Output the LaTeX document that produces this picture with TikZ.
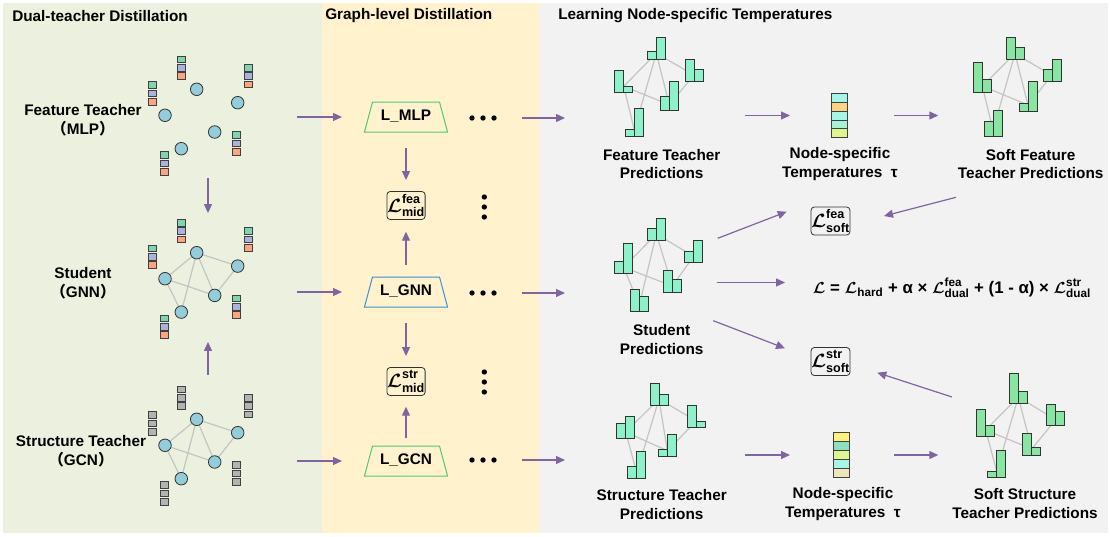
\documentclass[tikz,border=0pt]{standalone}
\usepackage{amsmath,bm}
\usepackage{fontspec}
\setmainfont{Liberation Sans}
\newfontfamily\cjk{Noto Sans CJK SC}
\usetikzlibrary{arrows.meta,shapes.geometric}

\definecolor{bggreen}{HTML}{EBF1DE}
\definecolor{bgyellow}{HTML}{FFF2CC}
\definecolor{bggray}{HTML}{F2F2F2}
\definecolor{flowc}{HTML}{8064A2}
\definecolor{edgec}{HTML}{C4C4C4}
\definecolor{gnodec}{HTML}{92CDDC}
\definecolor{cgreen}{HTML}{80D4B0}
\definecolor{cblue}{HTML}{A9B3DD}
\definecolor{corange}{HTML}{FFA37D}
\definecolor{cgray}{HTML}{B3B3B3}
\definecolor{predc}{HTML}{8DF2C9}
\definecolor{softc}{HTML}{88E6A2}
\definecolor{mlpc}{HTML}{50C878}
\definecolor{gnnc}{HTML}{3D8FD6}
\definecolor{tcyan}{HTML}{A6F5E9}
\definecolor{torange}{HTML}{FFD37F}
\definecolor{tmint}{HTML}{A8F2D8}
\definecolor{tlime}{HTML}{DDF78C}
\definecolor{tyellow}{HTML}{FFF27A}
\definecolor{tgreen}{HTML}{8AE2C2}
\definecolor{tbeige}{HTML}{EEE6B8}

\newcommand\Lcal{\boldsymbol{\mathcal{L}}}
\newcommand\lossL[2]{$\Lcal^{\text{#1}}_{\text{#2}}$}
% three cells of one node feature
\def\cellstack(#1,#2)#3#4#5{%
  \draw[stackcell,fill=#3] (#1-4,#2) rectangle ++(8,6.7);
  \draw[stackcell,fill=#4] (#1-4,#2+8.3) rectangle ++(8,6.7);
  \draw[stackcell,fill=#5] (#1-4,#2+16.6) rectangle ++(8,6.7);}
% two prediction bars standing on (x,y)
\def\bars(#1,#2)#3#4#5{%
  \draw[predbar,fill=#5] (#1-9,#2) rectangle ++(9,-#3);
  \draw[predbar,fill=#5] (#1,#2) rectangle ++(9,-#4);}
% row or column of three dots round (x,y)
\def\hdots(#1,#2){\foreach \k in {-11,0,11} \fill (#1+\k,#2) circle[radius=2pt];}
\def\vdots(#1,#2){\foreach \k in {-10,0,10} \fill (#1,#2+\k) circle[radius=2pt];}
\newcommand\inputgraph[6]{%
  \begin{scope}[shift={(#1,#2)}]
    \coordinate (a) at (0,0);
    \coordinate (b) at (41,13.4);
    \coordinate (c) at (-31.7,26);
    \coordinate (d) at (18,42.7);
    \coordinate (e) at (-15.4,59.4);
    \draw[#6] (a)--(b) (a)--(c) (a)--(d) (a)--(e) (c)--(d) (c)--(e) (b)--(d);
    \foreach \p in {a,b,c,d,e} \draw[gnode] (\p) circle[radius=4.7pt];
    \foreach \sx/\sy in {-15/-33.3,-44.4/-7.6,51.6/-25,39.3/42.4,-32/62.4}
      {\cellstack(\sx,\sy){#3}{#4}{#5}}
  \end{scope}}
\newcommand\predgraph[2]{%
  \foreach \x/\y/\p/\q [count=\i] in {#2} \coordinate (n\i) at (\x,\y-6);
  \draw[graphedge] (n1)--(n2) (n1)--(n3) (n1)--(n4) (n1)--(n5) (n3)--(n4) (n3)--(n5) (n2)--(n4);
  \foreach \x/\y/\p/\q in {#2} {\bars(\x,\y){\p}{\q}{#1}}}

\tikzset{
  flow/.style={draw=flowc, line width=0.9pt, -{Triangle[length=6.75pt,width=6pt]}},
  graphedge/.style={draw=edgec, line width=0.9pt},
  gnode/.style={draw=black!80, fill=gnodec, line width=0.6pt},
  stackcell/.style={draw=black!75, line width=0.55pt},
  predbar/.style={draw=black!80, line width=0.6pt},
  paneltitle/.style={font=\bfseries\fontsize{11.5}{14}\selectfont, anchor=west, inner sep=0pt},
  lbl/.style={font=\bfseries\fontsize{11.5}{14}\selectfont, align=center, inner sep=0pt},
  lossbox/.style={draw=black!80, rounded corners=2.5pt, line width=0.6pt, minimum width=28.5pt,
    minimum height=21pt, inner sep=0pt, font=\bfseries\fontsize{13.5}{15}\selectfont},
  layerbox/.style={trapezium, trapezium left angle=75, trapezium right angle=75, line width=0.75pt,
    text width=50.25pt, align=center, inner xsep=0pt, inner ysep=6pt, text height=8pt,
    text depth=2.5pt, font=\bfseries\fontsize{11.5}{14}\selectfont},
  tempbar/.style={minimum width=12pt, minimum height=33.3pt, inner sep=0pt}
}

\begin{document}
\begin{tikzpicture}[x=0.75pt,y=-0.75pt]
%%%%% START %%%%%
\useasboundingbox (0,0) rectangle (1110,536);

\fill[bggreen] (3,3) rectangle (322,533);
\fill[bgyellow] (322,3) rectangle (539,533);
\fill[bggray] (539,3) rectangle (1108,533);

\node[paneltitle] (t1) at (12,16) {Dual-teacher Distillation};
\node[paneltitle] (t2) at (325,16) {Graph-level Distillation};
\node[paneltitle] (t3) at (558,16) {Learning Node-specific Temperatures};

% dual teachers and student
\node[lbl] (ftlab) at (83,120.5) {Feature Teacher\\{\cjk （}MLP{\cjk ）}};
\node[lbl] (stlab) at (83,283.5) {Student\\{\cjk （}GNN{\cjk ）}};
\node[lbl] (sglab) at (81,451.5) {Structure Teacher\\{\cjk （}GCN{\cjk ）}};

\inputgraph{196.7}{89.3}{cgreen}{cblue}{corange}{draw=none}
\inputgraph{196.7}{252.7}{cgreen}{cblue}{corange}{graphedge}
\inputgraph{196.7}{419.3}{cgray}{cgray}{cgray}{graphedge}

\coordinate (ftg) at (208,115);
\coordinate (stg) at (208,278.5);
\coordinate (sg) at (208,445.5);
\draw[flow, shorten <=47.25pt, shorten >=49.1pt] (ftg) -- (stg);
\draw[flow, shorten <=52.9pt, shorten >=47.6pt] (sg) -- (stg);

% graph-level distillation
\node[layerbox, draw=mlpc] (mlp) at (406,117) {L\_MLP};
\node[layerbox, draw=gnnc] (gnn) at (406,292) {L\_GNN};
\node[layerbox, draw=mlpc] (gcn) at (406,461) {L\_GCN};
\node[lossbox] (feamid) at (406,205.5) {\lossL{fea}{mid}};
\node[lossbox] (strmid) at (406,381.5) {\lossL{str}{mid}};

\coordinate (dots1) at (483,118);
\coordinate (dots2) at (483,293);
\coordinate (dots3) at (483,460);
\hdots(483,118) \hdots(483,293) \hdots(483,460)
\vdots(484.3,207) \vdots(484.3,382)

\draw[flow, shorten <=66.75pt, shorten >=48pt] (ftg |- mlp) -- (mlp.center);
\draw[flow, shorten <=66.75pt, shorten >=48pt] (stg |- gnn) -- (gnn.center);
\draw[flow, shorten <=66.75pt, shorten >=48pt] (sg |- gcn) -- (gcn.center);
\draw[flow, shorten <=23.25pt, shorten >=19.1pt] (mlp.center) -- (feamid.center);
\draw[flow, shorten <=20.25pt, shorten >=19.65pt] (gnn.center) -- (feamid.center);
\draw[flow, shorten <=23.5pt, shorten >=19.1pt] (gnn.center) -- (strmid.center);
\draw[flow, shorten <=17pt, shorten >=18.9pt] (gcn.center) -- (strmid.center);

% predictions
\predgraph{predc}{656.3/59.3/7.6/22, 694/81/21.7/11.7, 623.7/92.3/22.3/6.3, 669.3/110.7/14.7/29.7, 634.3/136/6.7/27.7}
\predgraph{predc}{656.3/240/11.7/21.7, 693.7/262.3/10.7/21.7, 623.7/273.3/12.3/30, 672.3/292/22/12.3, 639.3/311.3/22/14.7}
\predgraph{predc}{659/405/21.7/11, 696.3/427/22/6, 625.7/438/14.7/22, 667.3/456.7/7.7/22, 636.7/478.7/12/27.7}
\predgraph{softc}{1015/59.7/22.4/12.7, 1052/81.3/12.3/22, 982.3/92/29.7/12.3, 1028/111/7.7/29.7, 993/136.3/15/25.6}
\predgraph{softc}{1018.3/403/29.7/12, 1055.7/425.7/21.7/14, 985.7/436/26.7/10.7, 1031.7/455/21.7/7.3, 996.7/477.3/6.3/27.3}

\coordinate (ftp) at (660,87);
\coordinate (sp) at (660,265);
\coordinate (stp) at (660,431);
\coordinate (sfp) at (1018,87);
\coordinate (ssp) at (1020,425);

\node[lbl] (ftplab) at (661.7,164) {Feature Teacher\\Predictions};
\node[lbl] (splab) at (661.7,339.5) {Student\\Predictions};
\node[lbl] (stplab) at (661.7,504.5) {Structure Teacher\\Predictions};
\node[lbl] (sfplab) at (1030.7,164) {Soft Feature\\Teacher Predictions};
\node[lbl] (ssplab) at (1025,503.7) {Soft Structure\\Teacher Predictions};

% temperatures
\node[tempbar] (tau1) at (839,115.5) {};
\foreach \c [count=\i from 0] in {tcyan,torange,tcyan,tmint,tlime}
  \draw[stackcell, fill=\c] (831,93.3+\i*8.88) rectangle ++(16,8.88);
\node[tempbar] (tau2) at (841,455) {};
\foreach \c [count=\i from 0] in {tyellow,tgreen,tlime,tcyan,tbeige}
  \draw[stackcell, fill=\c] (833.3,432.7+\i*8.88) rectangle ++(16,8.88);
\node[lbl] (tau1lab) at (840,164) {Node-specific\\Temperatures~~τ};
\node[lbl] (tau2lab) at (843,503.7) {Node-specific\\Temperatures~~τ};

\draw[flow, shorten <=29.25pt, shorten >=71.25pt] (dots1) -- (ftp |- dots1);
\draw[flow, shorten <=29.25pt, shorten >=71.25pt] (dots2) -- (sp |- dots2);
\draw[flow, shorten <=29.25pt, shorten >=71.25pt] (dots3) -- (stp |- dots3);
\draw[flow, shorten <=63.75pt, shorten >=36.75pt] (ftp |- tau1) -- (tau1.center);
\draw[flow, shorten <=41.25pt, shorten >=59.8pt] (tau1.center) -- (sfp |- tau1);
\draw[flow, shorten <=63.75pt, shorten >=38.25pt] (stp |- tau2) -- (tau2.center);
\draw[flow, shorten <=39.75pt, shorten >=61.3pt] (tau2.center) -- (ssp |- tau2);

% losses
\node[lossbox] (softfea) at (830.5,221) {\lossL{fea}{soft}};
\node[lossbox] (softstr) at (830.5,361.5) {\lossL{str}{soft}};
\node[lbl, font=\bfseries\fontsize{12.6}{14}\selectfont] (total) at (952,288)
  {$\Lcal$ = $\Lcal_{\text{hard}}$ + α × \lossL{fea}{dual} + (1 - α) × \lossL{str}{dual}};

\coordinate (sp-o1) at (717.7,238.3);
\coordinate (sp-e1) at (786.7,211.7);
\coordinate (sp-o2) at (716.7,282.5);
\coordinate (sp-e2) at (785,282.5);
\coordinate (sp-o3) at (713.3,320.7);
\coordinate (sp-e3) at (785,348.3);
\coordinate (sfp-o) at (956,197.3);
\coordinate (sfp-e) at (884,216);
\coordinate (ssp-o) at (952,397);
\coordinate (ssp-e) at (877.3,372.7);
\draw[flow] (sp-o1) -- (sp-e1);
\draw[flow] (sp-o2) -- (sp-e2);
\draw[flow] (sp-o3) -- (sp-e3);
\draw[flow] (sfp-o) -- (sfp-e);
\draw[flow] (ssp-o) -- (ssp-e);

%%%%% END %%%%%
\end{tikzpicture}
\end{document}
